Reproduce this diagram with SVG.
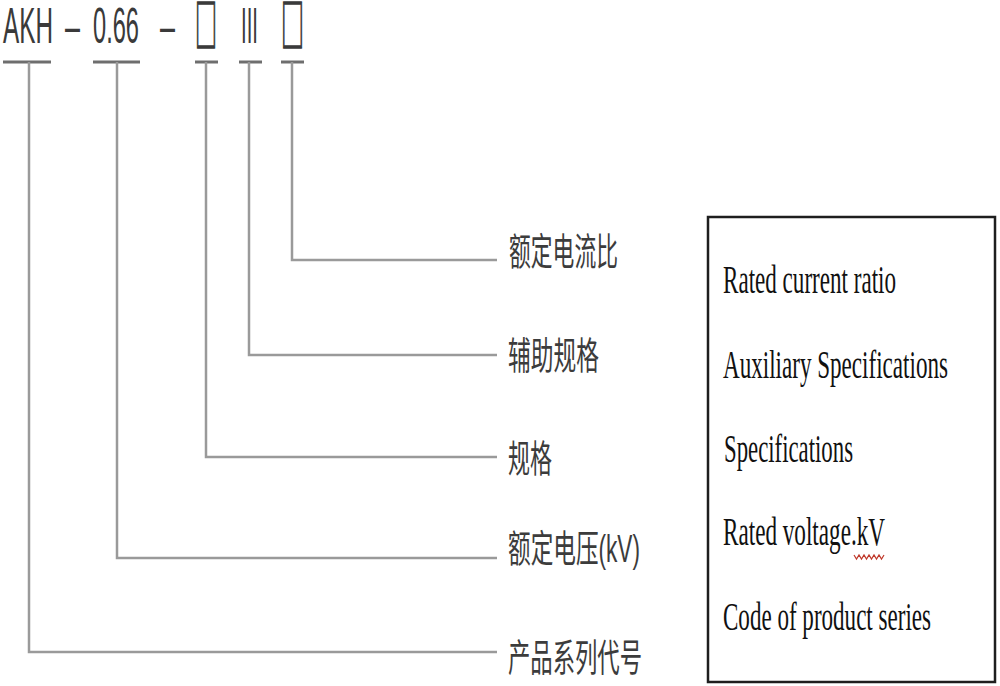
<svg xmlns="http://www.w3.org/2000/svg" width="1000" height="686" viewBox="0 0 1000 686">
<style>
.code{font-family:"Liberation Sans",Arial,sans-serif;font-size:50px;fill:#3a3a3a}
.box{font-family:"Noto Sans CJK SC","DejaVu Sans",sans-serif;font-size:56px;fill:#3a3a3a;stroke:#3a3a3a;stroke-width:1.4}
.ul{stroke:#6e6e6e;stroke-width:3;fill:none}
.cn{font-family:"Liberation Sans","Noto Sans CJK SC",sans-serif;font-size:38px;fill:#3c3c3c}
.en{font-family:"Liberation Serif","Times New Roman",serif;font-size:40px;fill:#111}
.conn{stroke:#9a9a9a;stroke-width:2.5;fill:none}
</style>
<rect width="1000" height="686" fill="#fff"/>
<g id="code-akh">
<text class="code" x="3" y="43" textLength="50" lengthAdjust="spacingAndGlyphs">AKH</text>
<line class="ul" x1="3" y1="62" x2="51" y2="62"/>
</g>
<text class="code" x="65" y="43" textLength="15" lengthAdjust="spacingAndGlyphs">–</text>
<g id="code-voltage">
<text class="code" x="93" y="43" textLength="46" lengthAdjust="spacingAndGlyphs">0.66</text>
<line class="ul" x1="93" y1="62" x2="140" y2="62"/>
</g>
<text class="code" x="160" y="43" textLength="15" lengthAdjust="spacingAndGlyphs">–</text>
<g id="code-spec">
<text class="box" x="195" y="46" textLength="22" lengthAdjust="spacingAndGlyphs">□</text>
<line class="ul" x1="195" y1="62" x2="218" y2="62"/>
</g>
<g id="code-aux">
<text class="code" x="241" y="43" textLength="17" lengthAdjust="spacingAndGlyphs">III</text>
<line class="ul" x1="239" y1="62" x2="262" y2="62"/>
</g>
<g id="code-ratio">
<text class="box" x="281" y="46" textLength="23" lengthAdjust="spacingAndGlyphs">□</text>
<line class="ul" x1="281" y1="62" x2="304" y2="62"/>
</g>
<g id="connectors">
<polyline class="conn" points="292,62 292,260 497,260"/>
<polyline class="conn" points="249,62 249,355 497,355"/>
<polyline class="conn" points="206,62 206,457 497,457"/>
<polyline class="conn" points="117,62 117,558 497,558"/>
<polyline class="conn" points="29,62 29,652 497,652"/>
</g>
<g id="label-ratio"><text class="cn" x="509" y="265" textLength="109" lengthAdjust="spacingAndGlyphs">额定电流比</text></g>
<g id="label-aux"><text class="cn" x="508" y="369" textLength="91" lengthAdjust="spacingAndGlyphs">辅助规格</text></g>
<g id="label-spec"><text class="cn" x="508" y="472" textLength="44" lengthAdjust="spacingAndGlyphs">规格</text></g>
<g id="label-voltage"><text class="cn" x="508" y="562" textLength="132" lengthAdjust="spacingAndGlyphs">额定电压(kV)</text></g>
<g id="label-series"><text class="cn" x="508" y="671" textLength="134" lengthAdjust="spacingAndGlyphs">产品系列代号</text></g>
<g id="legend">
<rect x="708" y="217" width="287" height="465" fill="none" stroke="#1e1e1e" stroke-width="2.5"/>
<text class="en" x="723" y="293" textLength="173" lengthAdjust="spacingAndGlyphs">Rated current ratio</text>
<text class="en" x="723" y="378" textLength="225" lengthAdjust="spacingAndGlyphs">Auxiliary Specifications</text>
<text class="en" x="724" y="462" textLength="129" lengthAdjust="spacingAndGlyphs">Specifications</text>
<text class="en" x="723" y="545" textLength="162" lengthAdjust="spacingAndGlyphs">Rated voltage.kV</text>
<path d="M854,555 l2.5,4 l2.5,-4 l2.5,4 l2.5,-4 l2.5,4 l2.5,-4 l2.5,4 l2.5,-4 l2.5,4 l2.5,-4 l2.5,4 l2.5,-4" fill="none" stroke="#c0392b" stroke-width="1.2"/>
<text class="en" x="723" y="630" textLength="208" lengthAdjust="spacingAndGlyphs">Code of product series</text>
</g>
</svg>
